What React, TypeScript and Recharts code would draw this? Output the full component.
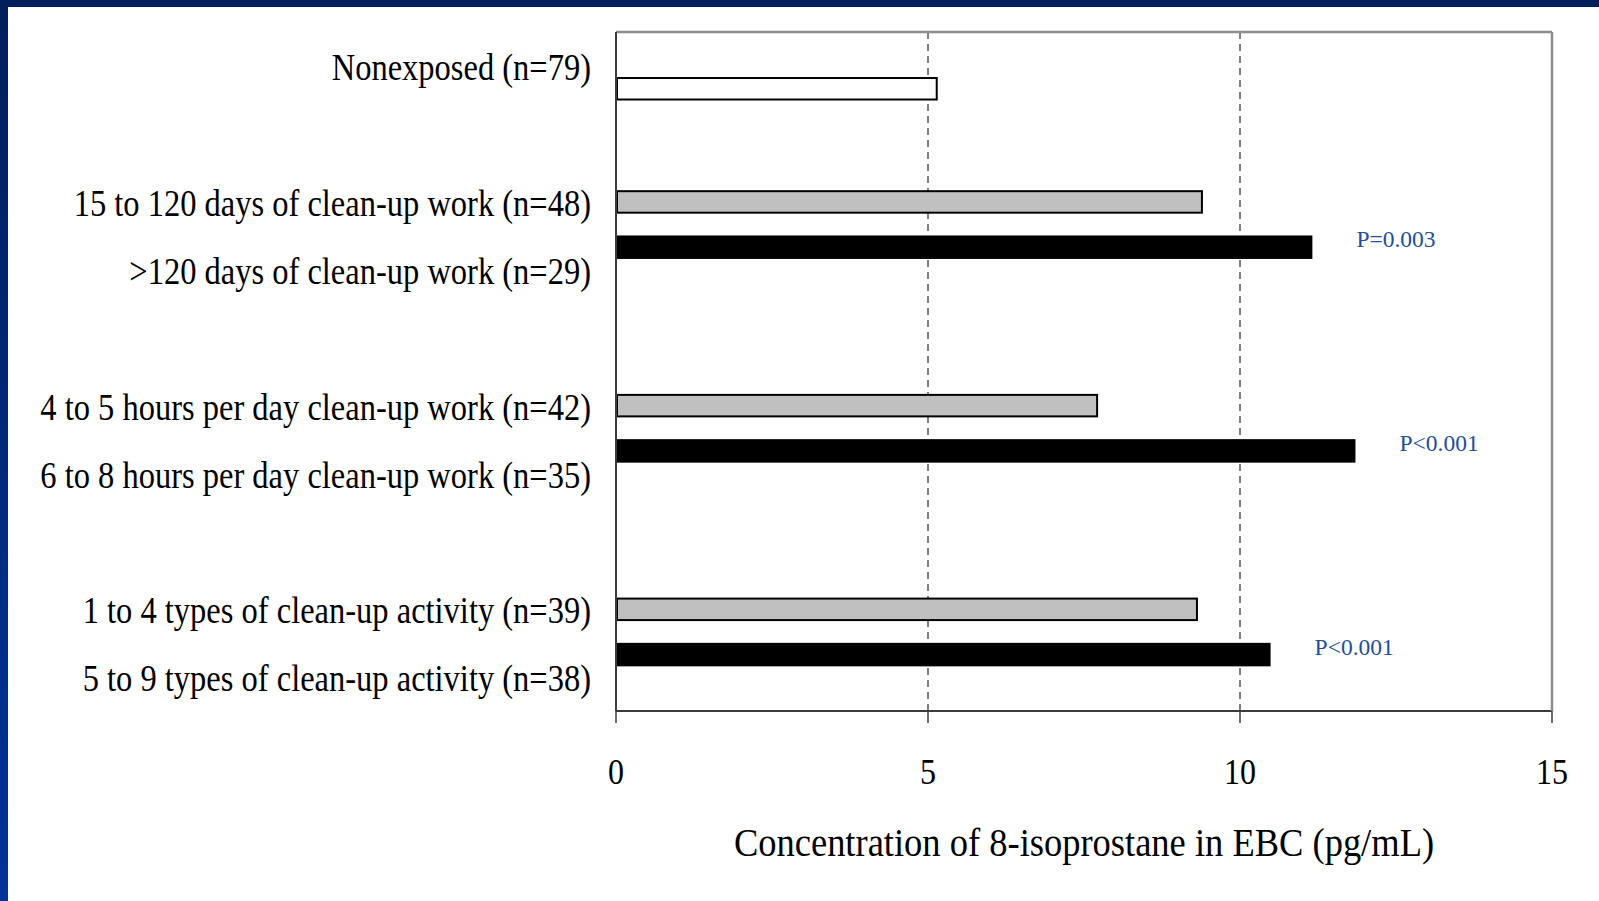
import React from 'react';
import {
  BarChart,
  Bar,
  XAxis,
  YAxis,
  CartesianGrid,
  LabelList,
  Label,
} from 'recharts';

// Group labels, top to bottom
const categories = [
  'Nonexposed (n=79)',
  '15 to 120 days of clean-up work (n=48)',
  '>120 days of clean-up work (n=29)',
  '4 to 5 hours per day clean-up work (n=42)',
  '6 to 8 hours per day clean-up work (n=35)',
  '1 to 4 types of clean-up activity (n=39)',
  '5 to 9 types of clean-up activity (n=38)',
];

// 8-isoprostane in EBC (pg/mL)
const nonexposedValues = [5.14];
const lowerExposureValues = [9.39, 7.71, 9.31];
const higherExposureValues = [11.16, 11.85, 10.49];
const pValues = ['P=0.003', 'P<0.001', 'P<0.001'];
const xTicks = [0, 5, 10, 15];

// layout: the value axis is split into evenly spaced slots
const SLOT_COUNT = 30;
const labelSlots = [1, 7, 10, 16, 19, 25, 28];
const nonexposedSlots = [2];
const lowerSlots = [7, 16, 25];
const higherSlots = [9, 18, 27];

type Row = {
  slot: number;
  label: string;
  none: number | null;
  low: number | null;
  high: number | null;
  p: string | null;
};

const rows: Row[] = Array.from({ length: SLOT_COUNT }, (_, i) => ({
  slot: i,
  label: '',
  none: null,
  low: null,
  high: null,
  p: null,
}));
labelSlots.forEach((s, i) => (rows[s].label = categories[i]));
nonexposedSlots.forEach((s, i) => (rows[s].none = nonexposedValues[i]));
lowerSlots.forEach((s, i) => (rows[s].low = lowerExposureValues[i]));
higherSlots.forEach((s, i) => {
  rows[s].high = higherExposureValues[i];
  rows[s].p = pValues[i];
});

const SERIF = '"Liberation Serif", "Times New Roman", serif';
const BAR_THICKNESS = 23.5;
const FRAME_GRAY = '#8c8c8c';

// bars are a touch thicker than one slot
const ThickBar = (props: any) => {
  const { x, y, width, height, fill, stroke, strokeWidth } = props;
  if (!width || width <= 0) return null;
  const sw = stroke ? strokeWidth || 0 : 0;
  const t = BAR_THICKNESS - sw;
  return (
    <rect
      x={x + sw / 2}
      y={y + height / 2 - t / 2}
      width={Math.max(width - sw / 2, 0)}
      height={t}
      fill={fill}
      stroke={stroke}
      strokeWidth={sw}
    />
  );
};

const CategoryTick = (props: any) => {
  const { x, y, payload } = props;
  const text = rows[payload.value]?.label;
  if (!text) return null;
  return (
    <g transform={`translate(${x},${y + 2}) scale(1,1.15)`}>
      <text
        x={0}
        y={0}
        textAnchor="end"
        dominantBaseline="central"
        fontFamily={SERIF}
        fontSize={32.5}
        fill="#000"
      >
        {text}
      </text>
    </g>
  );
};

const ValueTick = (props: any) => {
  const { x, y, payload } = props;
  return (
    <g transform={`translate(${x},${y + 46}) scale(1,1.15)`}>
      <text
        x={0}
        y={0}
        textAnchor="middle"
        dominantBaseline="central"
        fontFamily={SERIF}
        fontSize={32}
        fill="#000"
      >
        {payload.value}
      </text>
    </g>
  );
};

const PLabel = (props: any) => {
  const { x, y, width, height, value } = props;
  if (!value) return null;
  return (
    <text
      x={x + width + 44}
      y={y + height / 2 - 8}
      dominantBaseline="central"
      fontFamily={SERIF}
      fontSize={23.5}
      fill="#1d4ea0"
    >
      {value}
    </text>
  );
};

const AxisTitle = (props: any) => {
  const { viewBox } = props;
  const cx = viewBox.x + viewBox.width / 2;
  const cy = viewBox.y + 132;
  return (
    <g transform={`translate(${cx},${cy}) scale(1,1.07)`}>
      <text
        x={0}
        y={0}
        textAnchor="middle"
        dominantBaseline="central"
        fontFamily={SERIF}
        fontSize={36.5}
        fill="#000"
      >
        Concentration of 8-isoprostane in EBC (pg/mL)
      </text>
    </g>
  );
};

export default function App() {
  return (
    <div
      style={{
        position: 'fixed',
        top: 0,
        left: 0,
        width: 1599,
        height: 901,
        background: '#fff',
        overflow: 'hidden',
      }}
    >
      <div
        style={{
          position: 'absolute',
          top: 0,
          left: 0,
          width: 1599,
          height: 7,
          background: '#001f5b',
        }}
      />
      <div
        style={{
          position: 'absolute',
          top: 0,
          left: 0,
          width: 8,
          height: 901,
          background: 'linear-gradient(to bottom, #001f5b, #003399)',
        }}
      />
      <div style={{ position: 'absolute', top: 0, left: 0 }}>
        <BarChart
          width={1599}
          height={901}
          layout="vertical"
          data={rows}
          barCategoryGap={0}
          margin={{ top: 30, right: 45, bottom: 0, left: 0 }}
        >
          <CartesianGrid
            horizontal={false}
            stroke="#000"
            strokeWidth={1}
            strokeDasharray="7 5"
          />
          <XAxis
            type="number"
            domain={[0, 15]}
            ticks={xTicks}
            interval={0}
            height={190}
            tickSize={12}
            tickLine={{ stroke: '#3c3c3c', strokeWidth: 1.5 }}
            axisLine={{ stroke: '#3c3c3c', strokeWidth: 2 }}
            tick={<ValueTick />}
          >
            <Label content={<AxisTitle />} />
          </XAxis>
          <XAxis
            xAxisId="top"
            orientation="top"
            type="number"
            domain={[0, 15]}
            height={2}
            tick={false}
            tickLine={false}
            axisLine={{ stroke: FRAME_GRAY, strokeWidth: 2.5 }}
          />
          <YAxis
            type="category"
            dataKey="slot"
            width={616}
            interval={0}
            tickSize={0}
            tickMargin={25}
            tickLine={false}
            axisLine={{ stroke: '#3c3c3c', strokeWidth: 2 }}
            tick={<CategoryTick />}
          />
          <YAxis
            yAxisId="right"
            orientation="right"
            type="category"
            dataKey="slot"
            width={2}
            tick={false}
            tickLine={false}
            axisLine={{ stroke: FRAME_GRAY, strokeWidth: 2.5 }}
          />
          <Bar
            dataKey="none"
            stackId="s"
            fill="#ffffff"
            stroke="#000"
            strokeWidth={2}
            shape={<ThickBar />}
            isAnimationActive={false}
          />
          <Bar
            dataKey="low"
            stackId="s"
            fill="#c0c0c0"
            stroke="#000"
            strokeWidth={2}
            shape={<ThickBar />}
            isAnimationActive={false}
          />
          <Bar
            dataKey="high"
            stackId="s"
            fill="#000"
            shape={<ThickBar />}
            isAnimationActive={false}
          >
            <LabelList dataKey="p" content={<PLabel />} />
          </Bar>
          <Bar
            yAxisId="right"
            xAxisId="top"
            dataKey="none"
            stackId="frame"
            fill="none"
            legendType="none"
            isAnimationActive={false}
            shape={() => null}
          />
        </BarChart>
      </div>
    </div>
  );
}
